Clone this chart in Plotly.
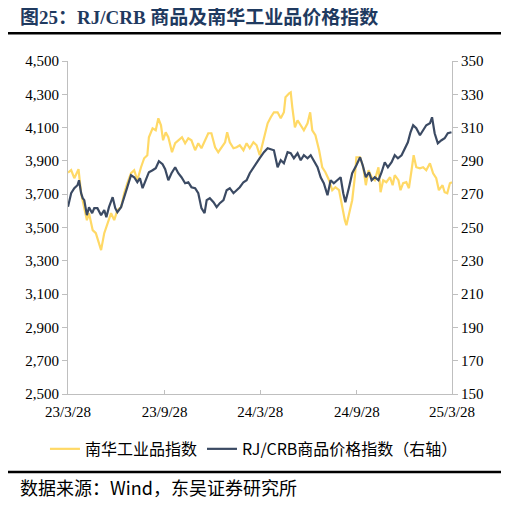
import pandas as pd
import plotly.graph_objects as go

# --- datos (días desde 2023-03-28) ---
fecha_inicio = "2023-03-28"

nh_dias = [0, 6, 12, 20, 25, 29, 36, 40, 47, 53, 59, 63, 69, 75, 82, 88, 94, 101, 107, 113,
           120, 126, 132, 139, 145, 151, 154, 161, 167, 172, 177, 181, 186, 191, 198, 204, 210,
           217, 223, 229, 235, 242, 248, 254, 261, 267, 273, 280, 286, 292, 299, 303, 308, 315,
           321, 327, 334, 340, 346, 353, 359, 365, 373, 380, 386, 392, 399, 405, 411, 414, 421,
           424, 427, 432, 437, 443, 449, 456, 461, 465, 471, 478, 484, 490, 497, 503, 509, 516,
           522, 527, 530, 535, 541, 546, 549, 556, 562, 567, 572, 578, 584, 591, 595, 600, 606,
           613, 618, 622, 629, 633, 638, 644, 649, 654, 658, 663, 670, 676, 682, 689, 695, 701,
           706, 713, 717, 722, 727, 731]
nh_valores = [3830, 3845, 3796, 3850, 3706, 3646, 3544, 3586, 3484, 3466, 3406, 3364, 3466, 3526,
              3586, 3544, 3604, 3622, 3706, 3766, 3826, 3844, 3784, 3862, 3916, 3934, 4042, 4096,
              4084, 4156, 4114, 4024, 4072, 4042, 3952, 4006, 4024, 4042, 4006, 4036, 4024, 3964,
              4006, 3976, 4024, 4066, 4066, 3982, 3952, 3982, 4012, 4072, 4012, 3976, 3982, 3994,
              3964, 4006, 3976, 4012, 3994, 3934, 4042, 4126, 4162, 4192, 4192, 4156, 4192, 4282,
              4306, 4312, 4222, 4102, 4144, 4114, 4084, 4126, 4192, 4084, 4054, 3964, 3862, 3832,
              3784, 3724, 3742, 3724, 3622, 3544, 3514, 3586, 3664, 3802, 3922, 3922, 3862, 3754,
              3844, 3802, 3784, 3862, 3712, 3784, 3772, 3802, 3754, 3814, 3784, 3724, 3766, 3772,
              3736, 3844, 3934, 3862, 3856, 3862, 3844, 3886, 3826, 3796, 3724, 3754, 3712, 3706,
              3766, 3772]

crb_dias = [0, 6, 12, 18, 21, 25, 28, 31, 36, 40, 46, 50, 56, 63, 69, 73, 78, 85, 90, 94, 101,
            107, 113, 120, 126, 132, 137, 142, 148, 154, 161, 167, 173, 180, 185, 191, 197, 204,
            210, 216, 223, 229, 235, 242, 248, 251, 254, 260, 264, 270, 277, 283, 289, 296, 302,
            308, 315, 321, 327, 334, 340, 346, 353, 359, 365, 373, 380, 386, 392, 399, 405, 411,
            418, 424, 430, 437, 443, 449, 456, 462, 468, 475, 481, 487, 494, 500, 506, 513, 519,
            524, 528, 535, 541, 549, 556, 561, 567, 573, 578, 584, 591, 597, 603, 609, 616, 622,
            628, 635, 641, 647, 652, 657, 663, 670, 676, 682, 689, 693, 698, 704, 711, 717, 723,
            730]
crb_valores = [262.4, 270.6, 273.6, 275.4, 278.4, 270.6, 267.6, 266.4, 257.4, 262.2, 258.6,
               261.6, 261.6, 257.4, 260.4, 256.2, 262.2, 268.2, 261.6, 259.2, 262.2, 268.2,
               273.6, 281.4, 280.2, 277.2, 279.6, 273.6, 278.4, 283.2, 284.4, 285.6, 289.8,
               288.0, 285.0, 278.4, 282.6, 286.2, 282.6, 280.2, 276.6, 277.2, 274.2, 273.6,
               270.6, 265.2, 261.6, 258.6, 266.4, 267.6, 265.2, 262.2, 264.6, 266.4, 272.4,
               273.6, 270.6, 272.4, 274.2, 277.2, 278.4, 282.6, 286.2, 288.6, 291.6, 295.2,
               297.6, 297.0, 296.4, 286.2, 290.4, 288.6, 295.2, 294.6, 291.6, 294.6, 290.4,
               293.4, 291.6, 293.4, 290.4, 286.2, 280.2, 276.6, 269.4, 278.4, 276.6, 278.4,
               280.2, 270.6, 265.2, 274.2, 282.6, 287.4, 292.2, 287.4, 280.2, 283.2, 278.4,
               280.2, 278.4, 283.2, 289.2, 286.2, 289.2, 293.4, 291.6, 293.4, 297.6, 301.2,
               307.2, 311.4, 309.6, 305.4, 308.4, 311.4, 312.6, 316.2, 306.6, 300.6, 302.4,
               303.6, 306.6, 307.2]

ticks_x = ["2023-03-28", "2023-09-28", "2024-03-28", "2024-09-28", "2025-03-28"]
ticks_x_texto = ["23/3/28", "23/9/28", "24/3/28", "24/9/28", "25/3/28"]

inicio = pd.Timestamp(fecha_inicio)
fechas_nh = inicio + pd.to_timedelta(nh_dias, unit="D")
fechas_crb = inicio + pd.to_timedelta(crb_dias, unit="D")

serif = "Times New Roman, Liberation Serif, serif"
cjk = "Noto Sans CJK SC, sans-serif"
gris = "#bfbfbf"

fig = go.Figure()
fig.add_trace(go.Scatter(x=fechas_nh, y=nh_valores, mode="lines", name="南华工业品指数",
                         line=dict(color="#ffd966", width=2.2)))
fig.add_trace(go.Scatter(x=fechas_crb, y=crb_valores, mode="lines", name="RJ/CRB商品价格指数（右轴）",
                         line=dict(color="#3b4a63", width=2.2), yaxis="y2"))

# la página añade 8px de margen en el body, se descuenta del tamaño de la figura
fig.update_layout(
    width=501, height=498,
    margin=dict(l=60, r=57, t=53, b=112, autoexpand=False),
    plot_bgcolor="white", paper_bgcolor="white",
    showlegend=True,
    # x negativo para que la leyenda pueda usar el ancho del margen izquierdo
    legend=dict(orientation="h", x=-0.06, xanchor="left",
                y=-0.165, yanchor="middle",
                font=dict(family=cjk, size=16, color="#000"), itemwidth=30,
                tracegroupgap=0),
    xaxis=dict(type="date", range=[ticks_x[0], ticks_x[-1]], tickvals=ticks_x,
               ticktext=ticks_x_texto, showline=True, linecolor=gris, linewidth=1,
               ticks="inside", ticklen=4, tickcolor=gris, showgrid=False, zeroline=False,
               ticklabelstandoff=4,
               tickfont=dict(family=serif, size=15, color="#000")),
    yaxis=dict(range=[2500, 4500], tick0=2500, dtick=200, tickformat=",d", showline=True,
               linecolor=gris, ticks="outside", ticklen=5, tickcolor=gris, showgrid=False,
               zeroline=False, tickfont=dict(family=serif, size=15, color="#000")),
    yaxis2=dict(range=[150, 350], tick0=150, dtick=20, overlaying="y", side="right",
                showline=True, linecolor=gris, ticks="outside", ticklen=5, tickcolor=gris,
                showgrid=False, zeroline=False,
                tickfont=dict(family=serif, size=15, color="#000")),
    annotations=[
        dict(text="<b>图25：RJ/CRB 商品及南华工业品价格指数</b>", xref="paper", yref="paper",
             x=-0.13, y=1.132, xanchor="left", yanchor="middle", showarrow=False,
             font=dict(family="Times New Roman, Liberation Serif, " + cjk, size=19,
                       color="#1f3a60")),
        dict(text="数据来源：Wind，东吴证券研究所", xref="paper", yref="paper",
             x=-0.13, y=-0.28, xanchor="left", yanchor="middle", showarrow=False,
             font=dict(family=cjk, size=18, color="#000")),
    ],
    shapes=[
        dict(type="line", xref="paper", yref="paper", x0=-0.164, x1=1.133, y0=1.083, y1=1.083,
             line=dict(color="#000", width=2.5)),
        dict(type="line", xref="paper", yref="paper", x0=-0.164, x1=1.133, y0=-0.234, y1=-0.234,
             line=dict(color="#000", width=2.5)),
    ],
)

fig.write_html("out.html")
